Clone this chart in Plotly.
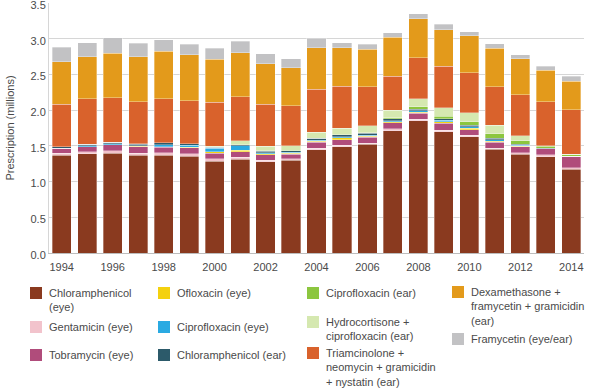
import plotly.graph_objects as go

years = list(range(1994, 2015))
tick_years = list(range(1994, 2015, 2))

series_names = [
    "Chloramphenicol<br>(eye)",
    "Gentamicin (eye)",
    "Tobramycin (eye)",
    "Ofloxacin (eye)",
    "Ciprofloxacin (eye)",
    "Chloramphenicol (ear)",
    "Ciprofloxacin (ear)",
    "Hydrocortisone +<br>ciprofloxacin (ear)",
    "Triamcinolone +<br>neomycin + gramicidin<br>+ nystatin (ear)",
    "Dexamethasone +<br>framycetin + gramicidin<br>(ear)",
    "Framycetin (eye/ear)",
]

chlor_eye = [1.37, 1.39, 1.40, 1.37, 1.37, 1.355, 1.285, 1.31, 1.275, 1.30, 1.445,
             1.49, 1.52, 1.715, 1.855, 1.70, 1.63, 1.45, 1.385, 1.35, 1.17]
gent_eye = [0.030, 0.028, 0.033, 0.028, 0.033, 0.033, 0.033, 0.028, 0.023, 0.019, 0.019,
            0.019, 0.019, 0.023, 0.019, 0.019, 0.019, 0.019, 0.019, 0.023, 0.023]
tobra_eye = [0.065, 0.070, 0.084, 0.089, 0.080, 0.089, 0.080, 0.080, 0.075, 0.061, 0.084,
             0.080, 0.080, 0.084, 0.080, 0.098, 0.080, 0.080, 0.084, 0.089, 0.159]
oflox_eye = [0.0, 0.0, 0.0, 0.005, 0.005, 0.005, 0.019, 0.019, 0.014, 0.014, 0.019,
             0.023, 0.019, 0.019, 0.019, 0.019, 0.019, 0.019, 0.005, 0.0, 0.0]
cipro_eye = [0.005, 0.014, 0.014, 0.010, 0.025, 0.025, 0.047, 0.066, 0.019, 0.014, 0.010,
             0.014, 0.014, 0.014, 0.019, 0.023, 0.019, 0.019, 0.014, 0.0, 0.0]
chlor_ear = [0.020, 0.019, 0.019, 0.023, 0.028, 0.023, 0.019, 0.014, 0.019, 0.023, 0.028,
             0.028, 0.028, 0.023, 0.023, 0.023, 0.019, 0.019, 0.014, 0.005, 0.0]
cipro_ear = [0.0, 0.0, 0.0, 0.005, 0.0, 0.0, 0.0, 0.0, 0.005, 0.005, 0.005,
             0.005, 0.005, 0.014, 0.033, 0.033, 0.051, 0.061, 0.051, 0.028, 0.023]
hydro_cipro_ear = [0.0, 0.0, 0.0, 0.0, 0.0, 0.0, 0.014, 0.056, 0.066, 0.066, 0.084,
                   0.089, 0.094, 0.108, 0.112, 0.117, 0.126, 0.122, 0.070, 0.005, 0.005]
triam_ear = [0.595, 0.637, 0.627, 0.590, 0.618, 0.604, 0.613, 0.613, 0.585, 0.562, 0.600,
             0.585, 0.548, 0.478, 0.571, 0.585, 0.562, 0.538, 0.571, 0.618, 0.627]
dexa_ear = [0.595, 0.590, 0.618, 0.627, 0.665, 0.641, 0.600, 0.618, 0.566, 0.529, 0.580,
            0.538, 0.529, 0.543, 0.548, 0.510, 0.520, 0.543, 0.510, 0.440, 0.398]
framy = [0.200, 0.197, 0.220, 0.187, 0.164, 0.150, 0.160, 0.160, 0.140, 0.126, 0.130,
         0.075, 0.070, 0.066, 0.070, 0.075, 0.056, 0.061, 0.050, 0.056, 0.070]

series_values = [chlor_eye, gent_eye, tobra_eye, oflox_eye, cipro_eye, chlor_ear,
                 cipro_ear, hydro_cipro_ear, triam_ear, dexa_ear, framy]

colors = ["#8a3a1f", "#f2c3cc", "#b04c7b", "#f4d10f", "#2aaae2", "#2c5a6a",
          "#8cc63f", "#d5e8b0", "#d9622c", "#e39a1b", "#c2c2c4"]

W, H = 602, 389
ML, MR, MT, MB = 49, 18, 3, 136
PW, PH = W - ML - MR, H - MT - MB


def px_x(x):
    return (x - ML) / PW


def px_y(y):
    return (H - MB - y) / PH


fig = go.Figure()
for name, vals, col in zip(series_names, series_values, colors):
    fig.add_trace(go.Bar(
        x=years, y=vals, name=name.replace("<br>", " "),
        marker=dict(color=col, line=dict(color="rgba(255,255,255,0.55)", width=0.6)),
        showlegend=False,
    ))

# Custom legend (4 columns, column-major)
legend_cols = [(30, 47), (158, 175), (307, 324), (452, 469)]
legend_rows = [[293, 327, 355], [293, 327, 355], [293, 322, 353], [292, 339]]
idx = 0
annotations = []
shapes = []
for c, (sx, tx) in enumerate(legend_cols):
    for r, yc in enumerate(legend_rows[c]):
        if idx >= len(series_names):
            break
        shapes.append(dict(type="rect", xref="paper", yref="paper",
                           x0=px_x(sx), x1=px_x(sx + 12),
                           y0=px_y(yc - 6), y1=px_y(yc + 6),
                           fillcolor=colors[idx], line=dict(width=0)))
        annotations.append(dict(text=series_names[idx], xref="paper", yref="paper",
                                x=px_x(tx), y=px_y(yc - 8), xanchor="left", yanchor="top",
                                align="left", showarrow=False,
                                font=dict(size=11, color="#4a4a4a")))
        idx += 1

fig.update_layout(
    width=W, height=H,
    barmode="stack", bargap=0.25,
    plot_bgcolor="white", paper_bgcolor="white",
    margin=dict(l=ML, r=MR, t=MT, b=MB, autoexpand=False),
    font=dict(family="Liberation Sans, Arial, sans-serif", size=11, color="#4a4a4a"),
    xaxis=dict(range=[1993.5, 2014.5], tickmode="array", tickvals=tick_years,
               ticktext=[str(y) for y in tick_years], showgrid=False, automargin=False,
               showline=True, linecolor="#bdbdbd", linewidth=1, ticks="",
               tickfont=dict(size=11, color="#4a4a4a"), ticklabelstandoff=4),
    yaxis=dict(range=[0, 3.5], dtick=0.5, tickformat=".1f", showgrid=True, automargin=False,
               gridcolor="#d6d6d6", gridwidth=1, showline=True, linecolor="#d6d6d6",
               zeroline=False, ticks="", tickfont=dict(size=11, color="#4a4a4a"),
               ticklabelshift=2, ticklabeloverflow="allow",
               title=dict(text="Prescription (millions)", font=dict(size=11, color="#4a4a4a"),
                          standoff=13)),
    annotations=annotations,
    shapes=shapes,
)

fig.write_html("out.html", config={"displayModeBar": False},
               post_script="document.body.style.margin='0';document.body.style.padding='0';")
